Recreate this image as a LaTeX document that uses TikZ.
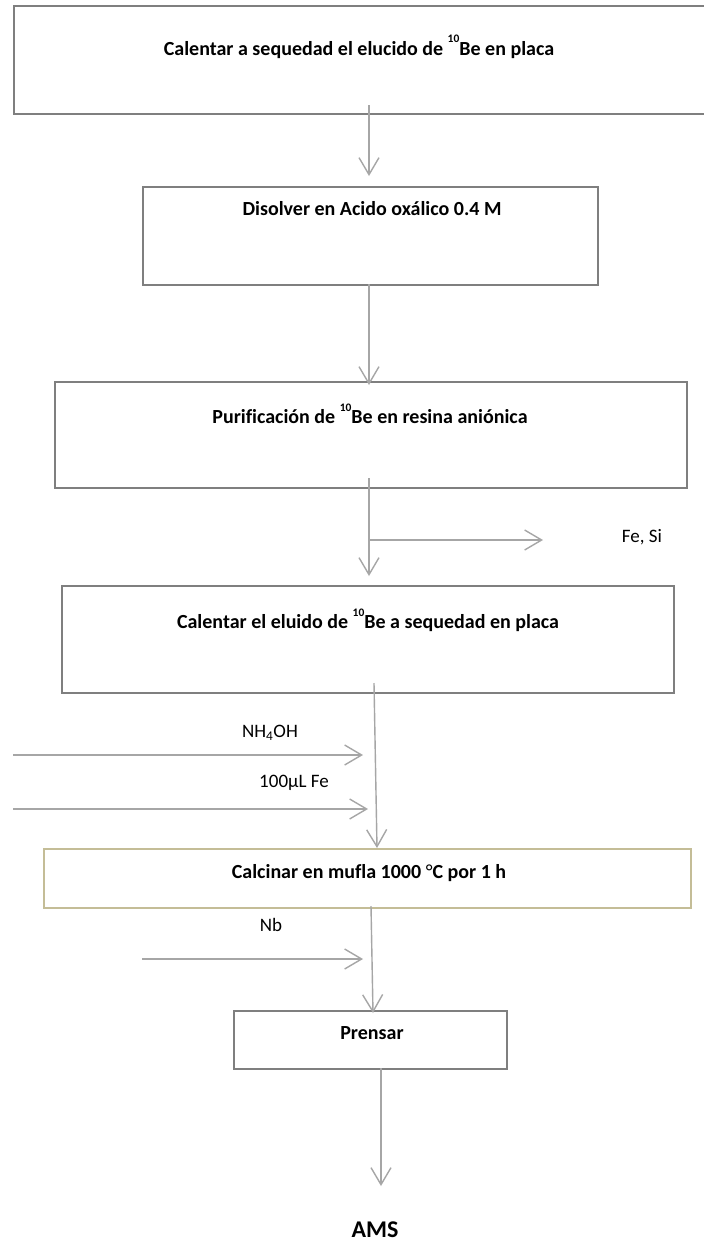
\documentclass[tikz,border=0pt]{standalone}
\usepackage{fontspec}
\setmainfont{Carlito}[Ligatures={NoCommon}]
\usetikzlibrary{arrows.meta}
\definecolor{boxgray}{HTML}{7F7F7F}
\definecolor{arrgray}{HTML}{A6A6A6}
\definecolor{tanline}{HTML}{C4BD97}
\newcommand\isotop[1]{\raisebox{0.62em}{\fontsize{11.5}{12}\selectfont #1}}
\begin{document}
\begin{tikzpicture}[x=1pt,y=-1pt,
  proc/.style={draw=boxgray,line width=1.5pt,fill=none,inner sep=0pt},
  tanbox/.style={draw=tanline,line width=1.8pt,fill=none,inner sep=0pt},
  flow/.style={draw=arrgray,line width=1.4pt,-{Straight Barb[length=17pt,width=20pt,line width=1.4pt]}},
  ttl/.style={font=\fontsize{20}{23}\selectfont\bfseries,inner sep=0pt},
  lbl/.style={font=\fontsize{19}{22}\selectfont,inner sep=0pt},
  big/.style={font=\fontsize{24}{28}\selectfont\bfseries,inner sep=0pt}]
\useasboundingbox (0,0) rectangle (704,1245);
\fill[white] (0,0) rectangle (704,1245);
\begin{scope}
\clip (0,0) rectangle (704,1245);
% boxes
\node[proc,anchor=north west,minimum width=695pt,minimum height=108pt] (b1) at (13,5) {};
\node[proc,anchor=north west,minimum width=455pt,minimum height=98pt] (b2) at (142,186) {};
\node[proc,anchor=north west,minimum width=632pt,minimum height=106pt] (b3) at (54,381) {};
\node[proc,anchor=north west,minimum width=612pt,minimum height=107pt] (b4) at (61,585) {};
\node[tanbox,anchor=north west,minimum width=647pt,minimum height=59pt] (b5) at (43,848) {};
\node[proc,anchor=north west,minimum width=273pt,minimum height=58pt] (b6) at (233,1010) {};
\end{scope}
% box texts
\node[ttl] (t1) at (359,47) {Calentar a sequedad el elucido de \isotop{10}Be en placa};
\node[ttl] (t2) at (372,209) {Disolver en Acido oxálico 0.4 M};
\node[ttl] (t3) at (370,414) {Purificación de \isotop{10}Be en resina aniónica};
\node[ttl] (t4) at (368,620) {Calentar el eluido de \isotop{10}Be a sequedad en placa};
\node[ttl] (t5) at (369,873) {Calcinar en mufla 1000 {\mdseries °}C por 1 h};
\node[ttl] (t6) at (372,1033) {Prensar};
\node[big] (ams) at (375,1230) {AMS};
% side labels
\node[lbl] (lfesi) at (642,537) {Fe, Si};
\node[lbl] (lnh) at (270,733) {NH\textsubscript{4}OH};
\node[lbl] (lfe) at (294,783) {100µL Fe};
\node[lbl] (lnb) at (271,925) {Nb};
% connector coordinates
\coordinate (a1s) at (369,105); \coordinate (a1e) at (369,176);
\coordinate (a2s) at (369,284); \coordinate (a2e) at (369,385);
\coordinate (a3s) at (369,478); \coordinate (a3e) at (369,576);
\coordinate (br) at (369,540);  \coordinate (bre) at (543,540);
\coordinate (a4s) at (374,683); \coordinate (a4e) at (377,848);
\coordinate (nhs) at (13,755);  \coordinate (nhe) at (363,755);
\coordinate (fes) at (13,809);  \coordinate (fee) at (368,809);
\coordinate (a5s) at (371,906); \coordinate (a5e) at (373,1013);
\coordinate (nbs) at (142,959); \coordinate (nbe) at (363,959);
\coordinate (a6s) at (381,1068); \coordinate (a6e) at (381,1186);
% connectors
\draw[flow] (a1s) -- (a1e);
\draw[flow] (a2s) -- (a2e);
\draw[flow] (a3s) -- (a3e);
\draw[flow] (br) -- (bre);
\draw[flow] (a4s) -- (a4e);
\draw[flow] (nhs) -- (nhe);
\draw[flow] (fes) -- (fee);
\draw[flow] (a5s) -- (a5e);
\draw[flow] (nbs) -- (nbe);
\draw[flow] (a6s) -- (a6e);
\end{tikzpicture}
\end{document}
